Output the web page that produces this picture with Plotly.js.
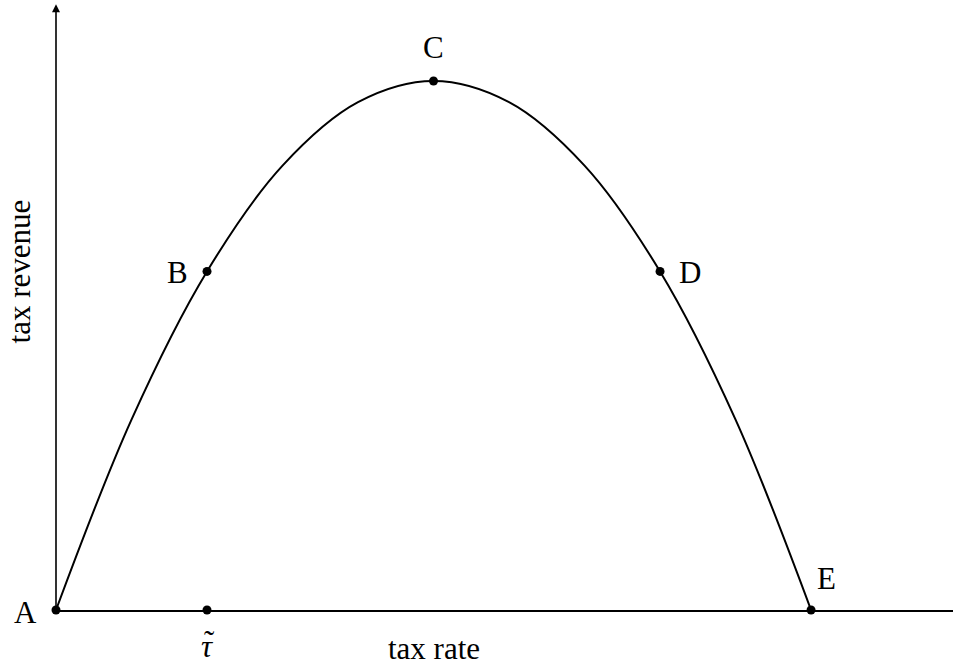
<!DOCTYPE html>
<html>
<head>
<meta charset="utf-8">
<script src="https://cdn.plot.ly/plotly-3.0.1.min.js"></script>
<style>
  html, body { margin: 0; padding: 0; background: #fff; }
  #myDiv { width: 953px; height: 663px; }
</style>
</head>
<body>
<div id="myDiv"></div>
<script>
// curve (tax rate vs tax revenue)
var rate = [0, 1, 2, 3, 4, 5, 6, 7, 8, 9, 10];
var revenue = [0, 3.6, 6.4, 8.4, 9.6, 10, 9.6, 8.4, 6.4, 3.6, 0];

// labelled points
var ptName = ['A', 'B', 'C', 'D', 'E'];
var ptX = [0, 2, 5, 8, 10];
var ptY = [0, 6.4, 10, 6.4, 0];

// tau tilde mark on the rate axis
var tauX = 2;
var tauY = 0;

var font = 'Liberation Serif, Times New Roman, serif';
var fs = 31;

var curve = {
  x: rate,
  y: revenue,
  mode: 'lines',
  line: {color: '#000', width: 2, shape: 'spline'},
  cliponaxis: false,
  hoverinfo: 'skip',
  type: 'scatter'
};

var dots = {
  x: ptX.concat([tauX]),
  y: ptY.concat([tauY]),
  mode: 'markers',
  marker: {color: '#000', size: 9},
  cliponaxis: false,
  type: 'scatter'
};

// label offsets in pixels
var offX = {A: -31, B: -30, C: 0, D: 30, E: 15};
var offY = {A: -2, B: -1, C: 33, D: -1, E: 32};

var ann = [];
for (var i = 0; i < ptName.length; i++) {
  ann.push({
    x: ptX[i], y: ptY[i], text: ptName[i], showarrow: false,
    xshift: offX[ptName[i]], yshift: offY[ptName[i]],
    font: {family: font, size: fs, color: '#000'}
  });
}
// tau with a tilde on top
ann.push({
  x: tauX, y: tauY, text: '<i>τ</i>', showarrow: false, yshift: -36,
  font: {family: font, size: fs, color: '#000'}
});
ann.push({
  x: tauX, y: tauY, text: '˜', showarrow: false, yshift: -31, xshift: 2,
  font: {family: font, size: fs, color: '#000'}
});
ann.push({
  x: 5, y: 0, text: 'tax rate', showarrow: false, yshift: -38, borderpad: 0,
  font: {family: font, size: fs, color: '#000'}
});
ann.push({
  x: 0, y: 6.4, text: 'tax revenue', showarrow: false, xshift: -37, textangle: -90,
  font: {family: font, size: fs, color: '#000'}
});
// vertical axis with arrow
ann.push({
  x: 0, y: 11.45, ax: 0, ay: 0, axref: 'x', ayref: 'y', xref: 'x', yref: 'y',
  showarrow: true, arrowhead: 2, arrowsize: 1, arrowwidth: 1.6, arrowcolor: '#000', text: ''
});

var layout = {
  width: 953,
  height: 663,
  margin: {l: 56, r: 0, t: 0, b: 53},
  showlegend: false,
  paper_bgcolor: '#fff',
  plot_bgcolor: '#fff',
  xaxis: {
    range: [0, 11.88], showgrid: false, zeroline: false, showticklabels: false,
    ticks: '', showline: true, linecolor: '#000', linewidth: 1.6
  },
  yaxis: {
    range: [0, 11.53], showgrid: false, zeroline: false, showticklabels: false,
    ticks: '', showline: false
  },
  annotations: ann
};

Plotly.newPlot('myDiv', [curve, dots], layout, {staticPlot: true});
</script>
</body>
</html>
